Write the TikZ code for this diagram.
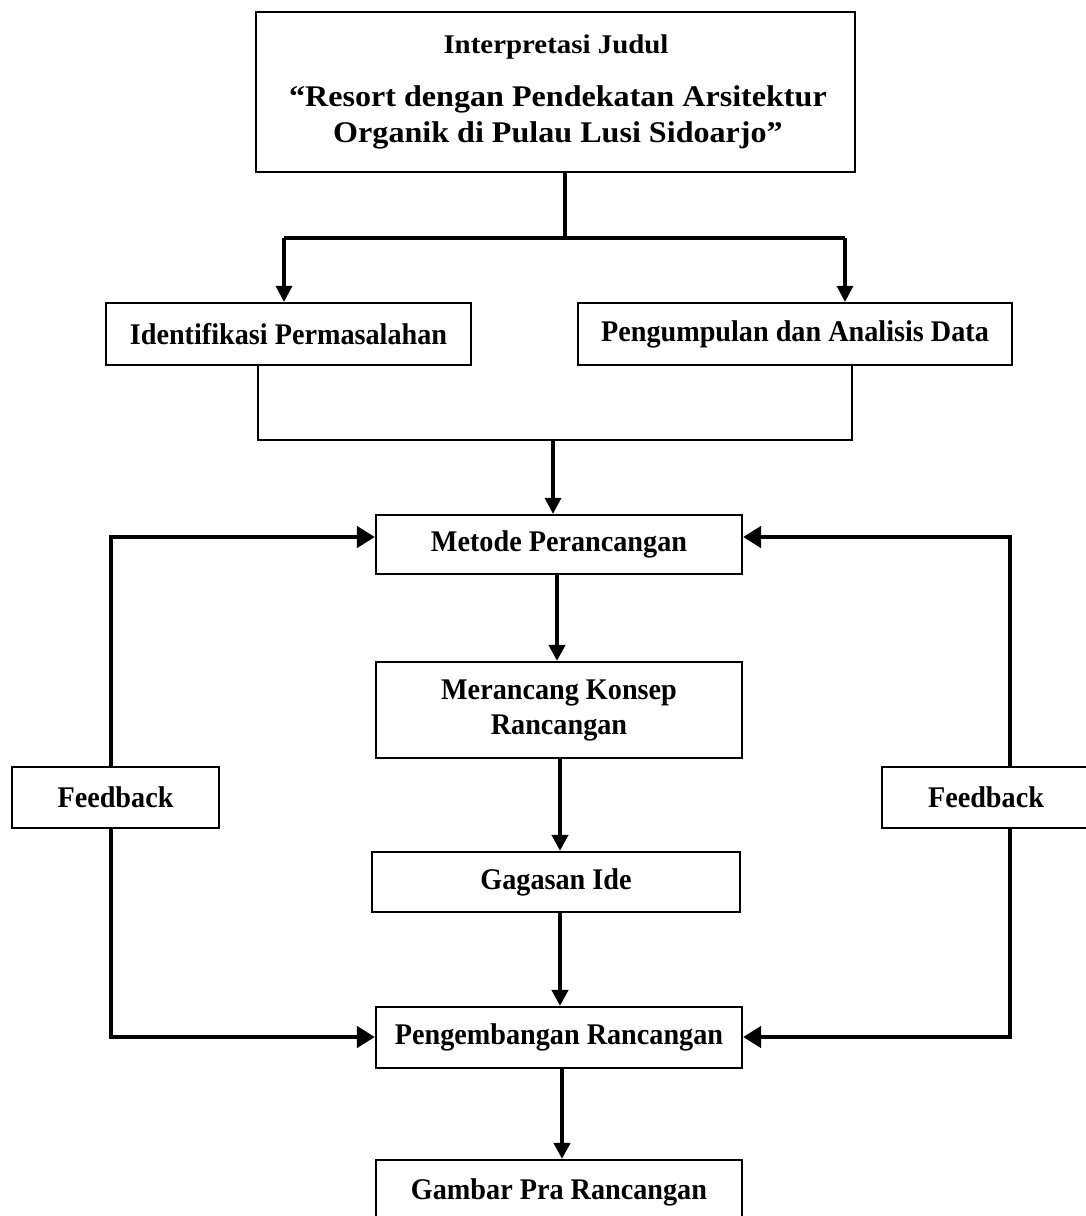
\documentclass[tikz,border=0pt]{standalone}
\usepackage{fontspec}
\setmainfont{Liberation Serif}
\newfontfamily\condfont{Liberation Serif}[FakeStretch=0.94]
\newfontfamily\widefont{Liberation Serif}[FakeStretch=1.07]
\usetikzlibrary{arrows.meta}
\begin{document}
\begin{tikzpicture}[x=1pt,y=-1pt,
  box/.style={draw, line width=2.2pt, inner sep=0pt, align=center,
    font=\condfont\bfseries\fontsize{30}{35}\selectfont},
  txt/.style={inner sep=0pt, anchor=base},
  conn/.style={line width=4pt},
  topconn/.style={line width=3.2pt},
  thinconn/.style={line width=2.4pt},
  fb/.style={line width=4.8pt},
  arr/.style={-{Triangle[length=16pt,width=16pt]}},
  fbarr/.style={-{Triangle[length=18pt,width=21pt]}}]
\useasboundingbox (0,0) rectangle (1086,1216);
\fill[white] (0,0) rectangle (1086,1216);
% top box
\node[box, minimum width=599pt, minimum height=160pt] (top) at (555.5,92) {};
\node[txt, font=\widefont\bfseries\fontsize{27}{32}\selectfont] (t1) at (556,53) {Interpretasi Judul};
\node[txt, font=\widefont\bfseries\fontsize{30}{36}\selectfont] (t2) at (558,106) {“Resort dengan Pendekatan Arsitektur};
\node[txt, font=\widefont\bfseries\fontsize{30}{36}\selectfont] (t3) at (558,142) {Organik di Pulau Lusi Sidoarjo”};
% second row
\node[box, minimum width=365pt, minimum height=62pt] (ident) at (288.5,334) {Identifikasi Permasalahan};
\node[box, minimum width=434pt, minimum height=62pt] (peng) at (795,334) {Pengumpulan dan Analisis Data};
% main column
\node[box, minimum width=366pt, minimum height=59pt] (metode) at (559,544.5) {Metode Perancangan};
\node[box, minimum width=366pt, minimum height=96pt] (konsep) at (559,710) {Merancang Konsep\\Rancangan};
\node[box, minimum width=368pt, minimum height=60pt] (ide) at (556,882) {Gagasan Ide};
\node[box, minimum width=366pt, minimum height=61pt] (kembang) at (559,1037.5) {Pengembangan Rancangan};
\node[box, minimum width=366pt, minimum height=66pt, text depth=0pt] (gambar) at (559,1193) {\raisebox{8pt}{Gambar Pra Rancangan}};
% feedback
\node[box, minimum width=207pt, minimum height=61pt] (fbl) at (115.5,797.5) {Feedback};
\node[box, minimum width=208pt, minimum height=61pt, text width=208pt, align=center] (fbr) at (986,797.5) {Feedback};
% coordinates
\coordinate (j1) at (565,238);
\coordinate (jl) at (284,238);
\coordinate (jr) at (845,238);
\coordinate (j2l) at (258,440);
\coordinate (j2r) at (852,440);
\coordinate (j2) at (553,440);
\coordinate (c1) at (557,0);
\coordinate (c2) at (560,0);
\coordinate (c3) at (562,0);
\coordinate (fl) at (111,0);
\coordinate (fr) at (1010,0);
\coordinate (fl1) at (111,537);
\coordinate (fl2) at (111,1037);
\coordinate (fr1) at (1010,537);
\coordinate (fr2) at (1010,1037);
% connectors top
\draw[topconn] (j1 |- top.south) -- (j1);
\draw[topconn] (jl) -- (jr);
\draw[topconn, arr] (jl) -- (jl |- ident.north);
\draw[topconn, arr] (jr) -- (jr |- peng.north);
\draw[thinconn] (j2l |- ident.south) -- (j2l) -- (j2r) -- (j2r |- peng.south);
\draw[topconn, arr] (j2) -- (j2 |- metode.north);
% main column arrows
\draw[conn, arr] (c1 |- metode.south) -- (c1 |- konsep.north);
\draw[conn, arr] (c2 |- konsep.south) -- (c2 |- ide.north);
\draw[conn, arr] (c2 |- ide.south) -- (c2 |- kembang.north);
\draw[conn, arr] (c3 |- kembang.south) -- (c3 |- gambar.north);
% feedback loops
\draw[fb, fbarr] (fl |- fbl.north) -- (fl1) -- (metode.west |- fl1);
\draw[fb, fbarr] (fl |- fbl.south) -- (fl2) -- (kembang.west |- fl2);
\draw[fb, fbarr] (fr |- fbr.north) -- (fr1) -- (metode.east |- fr1);
\draw[fb, fbarr] (fr |- fbr.south) -- (fr2) -- (kembang.east |- fr2);
\end{tikzpicture}
\end{document}
